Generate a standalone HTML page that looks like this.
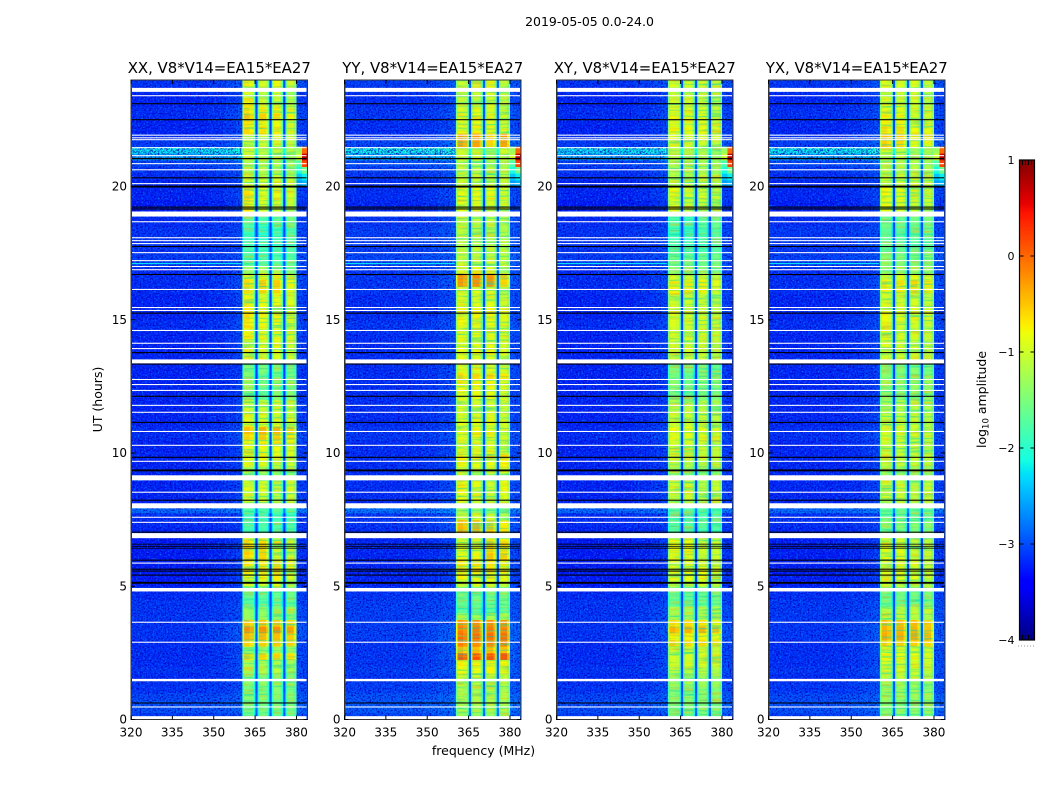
<!DOCTYPE html>
<html><head><meta charset="utf-8"><title>2019-05-05 0.0-24.0</title>
<style>
html,body{margin:0;padding:0;background:#fff;}
svg{display:block;}
text{font-family:"DejaVu Sans","Liberation Sans",sans-serif;fill:#000;}
</style></head>
<body>
<svg id="figure" width="1050" height="800" viewBox="0 0 1050 800" xmlns="http://www.w3.org/2000/svg">
<defs>
<filter id="speckle-light" x="0" y="0" width="1" height="1" color-interpolation-filters="sRGB">
<feTurbulence type="fractalNoise" baseFrequency="0.55" numOctaves="2" seed="3"/>
<feColorMatrix type="matrix" values="0 0 0 0 0  0 0 0 0 0.45  0 0 0 0 1  3.2 0 0 0 -1.62"/>
</filter>
<filter id="speckle-dark" x="0" y="0" width="1" height="1" color-interpolation-filters="sRGB">
<feTurbulence type="fractalNoise" baseFrequency="0.6" numOctaves="2" seed="11"/>
<feColorMatrix type="matrix" values="0 0 0 0 0  0 0 0 0 0  0 0 0 0 0.72  2.8 0 0 0 -1.25"/>
</filter>
<filter id="streak-cool" x="0" y="0" width="1" height="1" color-interpolation-filters="sRGB">
<feTurbulence type="fractalNoise" baseFrequency="0.03 0.5" numOctaves="2" seed="5"/>
<feColorMatrix type="matrix" values="0 0 0 0 0  0 0 0 0 0.85  0 0 0 0 0.7  1.8 0 0 0 -0.85"/>
</filter>
<filter id="streak-warm" x="0" y="0" width="1" height="1" color-interpolation-filters="sRGB">
<feTurbulence type="fractalNoise" baseFrequency="0.03 0.45" numOctaves="2" seed="19"/>
<feColorMatrix type="matrix" values="0 0 0 0 1  0 0 0 0 0.7  0 0 0 0 0  1.6 0 0 0 -0.8"/>
</filter>
</defs>
<text x="589.5" y="26" text-anchor="middle" font-size="12.5">2019-05-05 0.0-24.0</text>
<text x="483.5" y="755" text-anchor="middle" font-size="12.5">frequency (MHz)</text>
<text x="0" y="0" text-anchor="middle" font-size="12.5" transform="translate(102,399.5) rotate(-90)">UT (hours)</text>
<text x="0" y="0" text-anchor="middle" font-size="12.5" transform="translate(986,399.5) rotate(-90)">log<tspan font-size="8.5" dy="2.5">10</tspan><tspan dy="-2.5"> amplitude</tspan></text>
</svg>
<script>
// ---- chart data (log10 amplitude) ----
const panelTitles = ['XX, V8*V14=EA15*EA27', 'YY, V8*V14=EA15*EA27', 'XY, V8*V14=EA15*EA27', 'YX, V8*V14=EA15*EA27'];
const xTickLabels = [320, 335, 350, 365, 380];
const yTickLabels = [0, 5, 10, 15, 20];
const colorbarTickLabels = [1, 0, -1, -2, -3, -4];

// channel bins in MHz (edges), relative response and receiver sub-band of each bin
const freqEdges = [320,330,340,348,354,358,360.4,361,363,364.6,365.1,365.9,366.4,369,369.7,370.2,371,371.5,374,374.7,375.2,376,376.5,379,380,382,384];
const channelResponse = [0,0,0,.02,.05,.08, .75,1,.95,.6,.06, .65,1,.9,.6,.06, .65,1,.9,.6,.06, .65,1,.85, .08,.06];
const channelSubband = [0,0,0,0,0,0, 0,0,0,0,0, 1,1,1,1,1, 2,2,2,2,2, 3,3,3, 3,3];

// sky/background level per quarter hour, 0h to 24h
const backgroundLevel = [
-2.95,-2.85,-2.85,-2.9, -3,-3,-3.05,-3, -3.05,-3.05,-3.05,-3.05, -3,-3,-3,-3,
-3,-3,-3.05,-3.05, -3.15,-3.15,-3.15,-3.15, -3.15,-3.15,-3.15,-3.15, -3.1,-3.05,-3.05,-2.7,
-3.1,-3.1,-3.1,-3.1, -3.1,-3.1,-3.1,-3.1, -3.1,-3.1,-3.05,-3.05, -3.1,-3.1,-3.1,-3.1,
-3.1,-3.1,-3.1,-3.1, -3.1,-3.1,-3.1,-3.1, -3.1,-3.1,-3.05,-3.05, -3.1,-3.1,-3.1,-3.1,
-3.05,-3.05,-3.05,-3.05, -2.95,-2.95,-3,-3, -3,-3,-3.05,-3.05, -3.15,-3.15,-3.1,-3.1,
-3.1,-3.05,-3,-2.9, -2.4,-2.1,-2.95,-3.05, -3.1,-3.1,-3.05,-3.05, -3.1,-3.1,-3.05,-3.0];
const panelBackgroundOffset = [-.1, -.04, -.1, -.08];

// RFI band level per quarter hour, 0h to 24h, one series per correlation
const bandXX = [
-1.6,-1.5,-1.5,-1.4, -1.5,-1.4,-1.5,-1.2, -1.2,-.6,-1.3,-.55, -.45,-.2,-.5,-1.3,
-1.3,-1.7,-1.6,-1.5, -.95,-.8,-.7,-.75, -.8,-.8,-.8,-.95, -1.8,-1.8,-1.9,-1.7,
-1,-1,-.9,-1, -1.4,-1.2,-.95,-.85, -.85,-.75,-.6,-.45, -.85,-.9,-1,-1,
-1.4,-1.45,-1.3,-1.5, -1.45,-1.55,-.9,-.85, -.9,-.85,-.9,-.8, -.75,-.8,-.8,-.9,
-.7,-.65,-.85,-1.3, -1.6,-1.7,-1.75,-1.8, -1.9,-1.9,-1.7,-1.7, -.95,-.95,-.85,-.9,
-.9,-1,-1.15,-1.2, -1.1,-1.1,-1,-.9, -.7,-.8,-.6,-.75, -.9,-1,-1,-.8];
const bandYY = [
-1.3,-1.2,-1.2,-1.15, -1.2,-1.1,-1,-.8, -.75,.15,-.45,-.1, 0,-.1,-.2,-1.2,
-1.7,-1.6,-1.55,-1.5, -.9,-.75,-.7,-.7, -.7,-.8,-.8,-.95, -.4,-.45,-.9,-1.3,
-1,-.9,-.85,-.85, -1.1,-1,-.8,-.7, -.95,-.95,-.85,-.85, -.85,-.9,-.95,-.95,
-.85,-.8,-.75,-.6, -.85,-1,-.85,-.8, -.85,-.85,-.9,-.8, -.75,-.75,-.85,-.9,
-1,-.35,-.3,-1, -1,-1.1,-1.05,-1.1, -1.15,-1.15,-1.1,-1.1, -.9,-.9,-.85,-.85,
-.95,-1,-1.05,-1.1, -1.1,-1.1,-.4,-.35, -.85,-.9,-.9,-.95, -1,-1,-1,-.95];
const bandXY = [
-1.5,-1.45,-1.4,-1.4, -1.45,-1.3,-1.3,-1.15, -.95,-.95,-1,-.6, -.75,-.4,-.65,-1.2,
-1.2,-1.6,-1.6,-1.5, -1,-.85,-.85,-.9, -.9,-.9,-.9,-1.05, -1.75,-1.7,-1.8,-1.75,
-1.1,-1.05,-1,-1.05, -1.4,-1.3,-1.1,-1, -1,-.95,-.85,-.8, -1,-1,-1.1,-1.15,
-1.45,-1.5,-1.4,-1.5, -1.5,-1.55,-1,-.95, -1,-.95,-1,-.95, -.95,-1,-1,-1.05,
-.8,-.8,-1,-1.4, -1.5,-1.55,-1.75,-1.8, -1.85,-1.85,-1.75,-1.75, -1.05,-1.05,-.95,-1,
-1.05,-1.1,-1.2,-1.2, -1.2,-1.2,-1,-.85, -.8,-.9,-.85,-.95, -1,-1.05,-1.05,-.95];
const bandYX = [
-1.45,-1.35,-1.35,-1.3, -1.35,-1.25,-1.1,-1, -.95,-.8,-.95,-.55, -.35,-.4,-.45,-1.1,
-1.1,-1.55,-1.55,-1.45, -1,-.9,-.9,-.95, -.95,-.95,-1,-1.1, -1.5,-1.4,-1.6,-1.6,
-1.1,-1.05,-1,-1.05, -1.35,-1.25,-1.05,-1, -1.05,-1,-.95,-.95, -1,-1.05,-1.1,-1.15,
-1.35,-1.35,-1.25,-1.4, -1.4,-1.45,-1,-.95, -1,-.95,-1,-.95, -.85,-.9,-.95,-1,
-.75,-.7,-.95,-1.35, -1.35,-1.4,-1.6,-1.65, -1.7,-1.7,-1.6,-1.6, -1,-1,-.95,-.95,
-1,-1.05,-1.1,-1.15, -1.15,-1.15,-.7,-.6, -.75,-.85,-.85,-.95, -.95,-1,-1,-.9];
const panelBands = [bandXX, bandYY, bandXY, bandYX];

// sub-band gain per hour (4 sub-bands for each of 24 hours), one series per correlation
const hourlySubbandXX = [
0,0,0,0, 0,.05,.1,0, 0,0,0,-.05, 0,0,0,-.1, 0,-.05,0,.05, .05,.05,.1,-.15,
.2,.2,-.2,-.25, 0,0,.05,0, .05,.05,-.15,0, .05,.05,0,-.05, 0,.05,.05,-.1, .05,0,0,-.05,
.05,-.2,0,0, 0,0,0,-.1, .1,0,0,-.1, .1,0,0,-.1, .05,.1,.1,-.15, 0,-.1,-.1,0,
0,-.1,.1,.2, .25,0,0,-.1, 0,0,0,-.1, .1,0,0,-.1, .1,.05,0,-.2, .1,-.1,0,-.2];
const hourlySubbandYY = [
0,0,0,0, 0,0,.05,-.05, 0,0,0,-.02, 0,0,0,-.02, 0,0,0,.05, 0,0,0,-.05,
-.1,-.1,.2,.15, 0,0,-.15,-.3, .1,0,-.15,.05, 0,0,0,.05, 0,0,0,-.1, 0,0,0,-.1,
0,0,0,-.1, 0,0,0,-.1, 0,0,0,-.1, 0,0,0,-.1, .1,.15,.1,-.25, 0,0,0,0,
.1,0,0,-.05, .05,0,0,-.1, 0,-.05,-.05,-.1, .1,.1,-.2,.1, 0,.1,0,-.1, -.05,-.05,.1,-.1];
const hourlySubbandXY = [
0,0,0,0, 0,.05,.05,0, 0,0,0,-.05, 0,0,0,-.1, 0,-.05,0,.05, 0,.05,.05,-.1,
.1,.1,-.1,-.1, 0,0,0,0, .05,.05,-.1,0, .05,0,0,-.05, 0,0,0,-.1, 0,0,0,-.1,
0,-.15,0,0, 0,0,0,-.1, .05,0,0,-.1, .05,0,0,-.1, .05,.05,.05,-.1, 0,-.05,-.05,0,
0,-.1,.05,.15, .15,0,0,-.1, 0,0,0,-.1, .05,0,0,-.1, .05,0,0,-.1, .05,0,0,-.1];
const hourlySubbandYX = [
0,0,0,0, 0,.05,.05,-.05, 0,0,0,-.05, 0,0,0,-.1, 0,0,0,.05, 0,.05,.05,-.1,
.1,.1,-.1,-.1, 0,0,0,0, .05,.05,-.1,0, 0,0,0,-.05, 0,0,0,-.1, 0,0,0,-.1,
0,-.1,0,0, 0,0,0,-.1, .1,0,0,-.1, .05,0,0,-.1, 0,.05,.1,0, 0,-.05,-.05,0,
.05,0,.05,.1, .2,.1,0,-.05, 0,0,0,-.1, .15,.1,-.15,-.1, .1,.1,-.05,-.1, .1,0,0,-.15];
const panelHourlySubband = [hourlySubbandXX, hourlySubbandYY, hourlySubbandXY, hourlySubbandYX];

// interference burst at the top of the band: quarter-hour index and level of the two last channels
const burstRows = [80, 81, 82, 83, 84, 85];
const burstNearLevel = [-2.6, -2.4, -2.1, -1.8, -1.0, -1.3];
const burstEdgeLevel = [-2.5, -2.2, -1.6, 0.2, 0.7, 0.0];

// narrow interference integration across the off-band channels, in hours
const interferenceHours = [17.11];
const interferenceLevel = [-2.2];

// flagged integrations (white) and zero-amplitude integrations (black), in hours
const flaggedHours = [23.63,23.41,21.93,21.83,21.76,21.46,21.16,20.86,20.63,20.11,18.97,18.68,18.08,17.97,17.86,17.52,17.22,17,16.88,16.14,15.46,15.35,14.6,14.12,13.92,13.44,12.76,12.57,12.35,11.79,11.53,10.81,10.29,9.69,9.07,8.53,8.02,7.59,7.4,6.9,5.87,4.87,3.65,2.9,1.48,.47,.07];
const flaggedDurations = [.15,.04,.04,.04,.04,.04,.04,.04,.04,.04,.19,.04,.04,.04,.04,.04,.04,.04,.04,.04,.04,.04,.04,.04,.04,.15,.04,.04,.04,.04,.04,.04,.04,.04,.19,.04,.19,.04,.04,.19,.04,.13,.04,.04,.09,.04,.11];
const zeroHours = [23.11,22.51,21.05,20.33,20,19.23,19.16,17.75,16.7,15.25,13.77,13.34,12.13,11.15,9.84,9.35,8.23,7.03,6.58,6.5,6.43,5.98,5.64,5.57,5.42,5.13,.62];
const zeroDurations = [.04,.04,.05,.04,.07,.04,.04,.04,.04,.04,.04,.04,.04,.04,.04,.07,.04,.04,.03,.03,.03,.04,.04,.04,.04,.07,.04];

// ---- layout and axis functions ----
const NS = 'http://www.w3.org/2000/svg';
const svg = document.getElementById('figure');
const axLeft = [131, 344.5, 556.5, 768.5];
const axWidth = 176.5, axTop = 80, axBottom = 719.5;
const freqMin = 320, freqMax = 384, hourMax = 24;
const rowHours = hourMax / backgroundLevel.length;
function xScale(p, f) { return axLeft[p] + (f - freqMin) / (freqMax - freqMin) * axWidth; }
function yScale(h) { return axBottom - h / hourMax * (axBottom - axTop); }
const cbLeft = 1019.5, cbRight = 1034.5, cbTop = 160, cbBottom = 640, cbMin = -4, cbMax = 1;
function cbScale(v) { return cbBottom - (v - cbMin) / (cbMax - cbMin) * (cbBottom - cbTop); }
function seg(v, pts) {
  for (let i = 1; i < pts.length; i++) {
    if (v <= pts[i][0]) {
      const a = pts[i - 1], b = pts[i];
      return a[1] + (v - a[0]) / (b[0] - a[0]) * (b[1] - a[1]);
    }
  }
  return pts[pts.length - 1][1];
}
function jet(f) {
  f = Math.max(0, Math.min(1, f));
  const r = seg(f, [[0,0],[.35,0],[.66,1],[.89,1],[1,.5]]);
  const g = seg(f, [[0,0],[.125,0],[.375,1],[.64,1],[.91,0],[1,0]]);
  const b = seg(f, [[0,.5],[.11,1],[.34,1],[.65,0],[1,0]]);
  return 'rgb(' + Math.round(r * 255) + ',' + Math.round(g * 255) + ',' + Math.round(b * 255) + ')';
}
function levelColor(v) { return jet((v - cbMin) / (cbMax - cbMin)); }
function shape(tag, attrs, parent) {
  const el = document.createElementNS(NS, tag);
  for (const k in attrs) el.setAttribute(k, attrs[k]);
  parent.appendChild(el);
  return el;
}

panelTitles.forEach(function (title, p) {
  const g = shape('g', {}, svg);
  
  

  // heatmap cells (burst cells are kept aside and painted above the grain)
  const cells = shape('g', {}, g);
  
  
  const burstCells = [];
  for (let r = 0; r < backgroundLevel.length; r++) {
    const bg = backgroundLevel[r] + panelBackgroundOffset[p];
    const burstIndex = burstRows.indexOf(r);
    const hour = Math.floor(r * rowHours);
    for (let c = 0; c < channelResponse.length; c++) {
      const top = panelBands[p][r] + panelHourlySubband[p][hour * 4 + channelSubband[c]];
      let v = bg + channelResponse[c] * (top - bg);
      if (burstIndex >= 0 && c === channelResponse.length - 2) v = burstNearLevel[burstIndex];
      if (burstIndex >= 0 && c === channelResponse.length - 1) v = burstEdgeLevel[burstIndex];
      const x0 = xScale(p, freqEdges[c]), x1 = xScale(p, freqEdges[c + 1]);
      const y0 = yScale((r + 1) * rowHours), y1 = yScale(r * rowHours);
      const cell = shape('rect', { x: x0, y: y0, width: x1 - x0 + .4, height: y1 - y0 + .4, fill: levelColor(v) }, cells);
      
      
      if (burstIndex >= 0 && c >= channelResponse.length - 2) burstCells.push(cell);
    }
  }

  // decorative receiver-noise grain over the off-band channels (texture only, not data)
  [[freqMin, 360.2], [380.2, 384]].forEach(function (range) {
    ['speckle-light', 'speckle-dark'].forEach(function (id) {
      const grain = shape('rect', { x: xScale(p, range[0]), y: axTop, width: xScale(p, range[1]) - xScale(p, range[0]), height: axBottom - axTop, filter: 'url(#' + id + ')' }, g);
      
      
    });
  });
  burstCells.forEach(function (cell) { g.appendChild(cell); });

  // decorative horizontal streak texture inside the four sub-bands (texture only, not data)
  [[361, 364.6], [366.4, 369.7], [371.5, 374.7], [376.5, 379.6]].forEach(function (range) {
    ['streak-cool', 'streak-warm'].forEach(function (id) {
      const streak = shape('rect', { x: xScale(p, range[0]), y: axTop, width: xScale(p, range[1]) - xScale(p, range[0]), height: axBottom - axTop, filter: 'url(#' + id + ')' }, g);
      
      
    });
  });

  // narrow interference line
  interferenceHours.forEach(function (h, i) {
    const line = shape('rect', { x: axLeft[p] + 1, y: yScale(h) - .5, width: xScale(p, 360) - axLeft[p] - 1, height: 1, fill: levelColor(interferenceLevel[i]) }, g);
    
    
  });

  // flagged and zero integrations
  flaggedHours.forEach(function (h, i) {
    const d = flaggedDurations[i];
    const line = shape('rect', { x: axLeft[p] + 1, y: yScale(h + d / 2), width: axWidth - 2, height: d / hourMax * (axBottom - axTop), fill: '#fff' }, g);
    
    
  });
  zeroHours.forEach(function (h, i) {
    const d = zeroDurations[i];
    const line = shape('rect', { x: axLeft[p] + 1, y: yScale(h + d / 2), width: axWidth - 2, height: d / hourMax * (axBottom - axTop), fill: '#000' }, g);
    
    
  });

  // frame
  const frame = shape('rect', { x: axLeft[p], y: axTop, width: axWidth, height: axBottom - axTop, fill: 'none', stroke: '#333', 'stroke-width': 1 }, g);
  
  

  // x ticks
  xTickLabels.forEach(function (t) {
    const x = xScale(p, t);
    const tickB = shape('line', { x1: x, x2: x, y1: axBottom, y2: axBottom - 4, stroke: '#000', 'stroke-width': 1 }, g);
    
    
    const tickT = shape('line', { x1: x, x2: x, y1: axTop, y2: axTop + 4, stroke: '#000', 'stroke-width': 1 }, g);
    
    
    const label = shape('text', { x: x, y: axBottom + 17, 'text-anchor': 'middle', 'font-size': 12 }, g);
    label.textContent = t;
    
    
  });
  // y ticks
  yTickLabels.forEach(function (t) {
    const y = yScale(t);
    const tickL = shape('line', { x1: axLeft[p], x2: axLeft[p] + 4, y1: y, y2: y, stroke: '#000', 'stroke-width': 1 }, g);
    
    
    const tickR = shape('line', { x1: axLeft[p] + axWidth, x2: axLeft[p] + axWidth - 4, y1: y, y2: y, stroke: '#000', 'stroke-width': 1 }, g);
    
    
    const label = shape('text', { x: axLeft[p] - 4, y: y + 4, 'text-anchor': 'end', 'font-size': 12 }, g);
    label.textContent = t;
    
    
  });
  // panel title
  const head = shape('text', { x: axLeft[p] + axWidth / 2, y: axTop - 7, 'text-anchor': 'middle', 'font-size': 14.9 }, g);
  head.textContent = title;
  
  
});

// ---- colour bar ----
const cb = shape('g', {}, svg);


const cbSteps = 240;
for (let i = 0; i < cbSteps; i++) {
  const v = cbMin + (i + .5) / cbSteps * (cbMax - cbMin);
  const stepH = (cbBottom - cbTop) / cbSteps;
  const step = shape('rect', { x: cbLeft, y: cbScale(v) - stepH / 2, width: cbRight - cbLeft, height: stepH + .3, fill: levelColor(v) }, cb);
  
  
}
const cbFrame = shape('rect', { x: cbLeft, y: cbTop, width: cbRight - cbLeft, height: cbBottom - cbTop, fill: 'none', stroke: '#000', 'stroke-width': 1.2 }, cb);


colorbarTickLabels.forEach(function (t) {
  const y = cbScale(t);
  const tickA = shape('line', { x1: cbLeft, x2: cbLeft + 4, y1: y, y2: y, stroke: '#000', 'stroke-width': 1 }, cb);
  
  
  const tickB = shape('line', { x1: cbRight, x2: cbRight - 4, y1: y, y2: y, stroke: '#000', 'stroke-width': 1 }, cb);
  
  
  const label = shape('text', { x: cbLeft - 5, y: y + 4, 'text-anchor': 'end', 'font-size': 11 }, cb);
  label.textContent = t < 0 ? '\u2212' + Math.abs(t) : String(t);
  
  
});
[1, 2, 3, 4].forEach(function (n) {
  const x = cbLeft + n * (cbRight - cbLeft) / 5;
  const minorTop = shape('line', { x1: x, x2: x, y1: cbTop, y2: cbTop + 5, stroke: '#000', 'stroke-width': 1 }, cb);
  
  
  const minorBottom = shape('line', { x1: x, x2: x, y1: cbBottom, y2: cbBottom - 5, stroke: '#000', 'stroke-width': 1 }, cb);
  
  
});
const dots = shape('line', { x1: 1018, x2: 1035, y1: 646, y2: 646, stroke: '#999', 'stroke-width': 1, 'stroke-dasharray': '1 2' }, cb);


</script>
</body></html>
